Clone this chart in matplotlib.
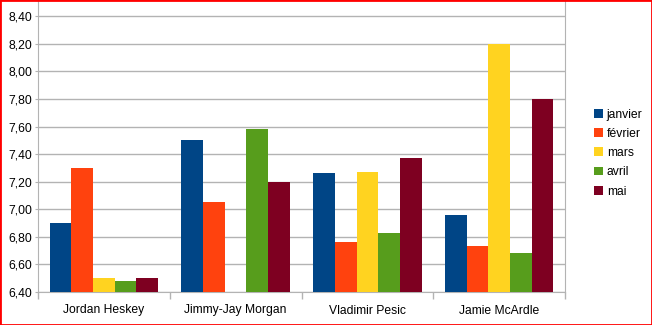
import numpy as np
import matplotlib
matplotlib.use("Agg")
import matplotlib.pyplot as plt
from matplotlib.patches import Rectangle

categories = ["Jordan Heskey", "Jimmy-Jay Morgan", "Vladimir Pesic", "Jamie McArdle"]
series_names = ["janvier", "février", "mars", "avril", "mai"]
janvier = [6.90, 7.50, 7.26, 6.96]
fevrier = [7.30, 7.05, 6.76, 6.73]
mars = [6.50, np.nan, 7.27, 8.20]
avril = [6.48, 7.58, 6.83, 6.68]
mai = [6.50, 7.20, 7.37, 7.80]
yticks = [6.40, 6.60, 6.80, 7.00, 7.20, 7.40, 7.60, 7.80, 8.00, 8.20, 8.40]
colors = ["#004586", "#ff420e", "#ffd320", "#579d1c", "#7e0021"]

plt.rcParams['font.family'] = ['Liberation Sans', 'DejaVu Sans']

fig = plt.figure(figsize=(6.52, 3.25), dpi=100)
ax = fig.add_axes([38/652, 1-292/325, (565-38)/652, (292-1)/325])

data = [janvier, fevrier, mars, avril, mai]
n = len(data)
bw = 0.165
x = np.arange(len(categories))
base = 6.40
for i, (vals, c, name) in enumerate(zip(data, colors, series_names)):
    v = np.array(vals, dtype=float)
    ax.bar(x + (i - (n-1)/2)*bw, v - base, bw, bottom=base, color=c, label=name, zorder=3)

ax.set_xlim(-0.5, len(categories) - 0.5)
ax.set_ylim(6.40, 8.51)
ax.set_yticks(yticks)
ax.set_yticklabels([f"{t:.2f}".replace(".", ",") for t in yticks], fontsize=8.7)
ax.yaxis.grid(True, color="#b3b3b3", linewidth=1, zorder=0)
ax.set_xticks(x)
ax.set_xticklabels(categories, fontsize=8.7)
ax.tick_params(axis='x', length=0, pad=9)
ax.tick_params(axis='y', length=2, color="#b3b3b3", pad=2)
ax.set_xticks(np.arange(-0.5, len(categories)), minor=True)
ax.tick_params(axis='x', which='minor', length=5, color="#b3b3b3", width=1)
for s in ["left", "right", "bottom"]:
    ax.spines[s].set_color("#b3b3b3")
ax.spines["top"].set_visible(False)

handles, labels = ax.get_legend_handles_labels()
fig.legend(handles, labels, loc="center left", bbox_to_anchor=(594/652, 1-153/325),
           frameon=False, fontsize=8.7, handlelength=0.75, handleheight=0.75,
           handletextpad=0.3, labelspacing=0.6, borderaxespad=0, borderpad=0)

fig.patches.append(Rectangle((0, 0), 1, 1, transform=fig.transFigure, fill=False,
                             edgecolor="#ff0000", linewidth=2, zorder=10))
fig.savefig("out.png", dpi=100)
